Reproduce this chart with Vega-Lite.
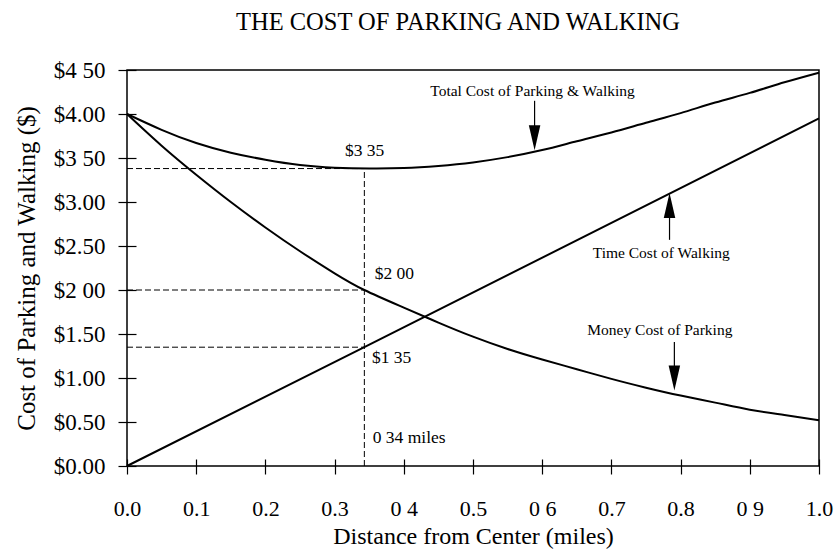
{
  "$schema": "https://vega.github.io/schema/vega-lite/v6.json",
  "autosize": {"type": "none"},
  "width": 692,
  "height": 396,
  "padding": {"left": 127, "top": 70, "right": 16, "bottom": 85},
  "background": "white",
  "config": {
    "font": "Liberation Serif",
    "view": {"stroke": "black", "strokeWidth": 1.5},
    "axis": {"labelColor": "black", "titleColor": "black", "tickColor": "black", "grid": false, "domain": false, "labelFont": "Liberation Serif", "titleFont": "Liberation Serif", "titleFontWeight": "normal"}
  },
  "title": {"text": "THE COST OF PARKING AND WALKING", "font": "Liberation Serif", "fontSize": 24.5, "fontWeight": "normal", "color": "black", "offset": 5, "dx": -15, "baseline": "alphabetic"},
  "datasets": {
    "curves": [
      {"x": 0.0, "cost": 4.00, "series": "Money"},
      {"x": 0.05, "cost": 3.64, "series": "Money"},
      {"x": 0.1, "cost": 3.31, "series": "Money"},
      {"x": 0.15, "cost": 3.00, "series": "Money"},
      {"x": 0.2, "cost": 2.71, "series": "Money"},
      {"x": 0.25, "cost": 2.44, "series": "Money"},
      {"x": 0.3, "cost": 2.19, "series": "Money"},
      {"x": 0.343, "cost": 2.00, "series": "Money"},
      {"x": 0.4, "cost": 1.80, "series": "Money"},
      {"x": 0.45, "cost": 1.63, "series": "Money"},
      {"x": 0.5, "cost": 1.47, "series": "Money"},
      {"x": 0.55, "cost": 1.33, "series": "Money"},
      {"x": 0.6, "cost": 1.21, "series": "Money"},
      {"x": 0.65, "cost": 1.10, "series": "Money"},
      {"x": 0.7, "cost": 0.99, "series": "Money"},
      {"x": 0.75, "cost": 0.89, "series": "Money"},
      {"x": 0.8, "cost": 0.80, "series": "Money"},
      {"x": 0.85, "cost": 0.72, "series": "Money"},
      {"x": 0.9, "cost": 0.64, "series": "Money"},
      {"x": 0.95, "cost": 0.58, "series": "Money"},
      {"x": 1.0, "cost": 0.52, "series": "Money"},
      {"x": 0.0, "cost": 0.00, "series": "Time"},
      {"x": 0.343, "cost": 1.35, "series": "Time"},
      {"x": 1.0, "cost": 3.95, "series": "Time"},
      {"x": 0.0, "cost": 4.00, "series": "Total"},
      {"x": 0.05, "cost": 3.82, "series": "Total"},
      {"x": 0.1, "cost": 3.67, "series": "Total"},
      {"x": 0.15, "cost": 3.56, "series": "Total"},
      {"x": 0.2, "cost": 3.48, "series": "Total"},
      {"x": 0.25, "cost": 3.42, "series": "Total"},
      {"x": 0.3, "cost": 3.39, "series": "Total"},
      {"x": 0.35, "cost": 3.38, "series": "Total"},
      {"x": 0.4, "cost": 3.385, "series": "Total"},
      {"x": 0.45, "cost": 3.41, "series": "Total"},
      {"x": 0.5, "cost": 3.45, "series": "Total"},
      {"x": 0.55, "cost": 3.51, "series": "Total"},
      {"x": 0.6, "cost": 3.59, "series": "Total"},
      {"x": 0.65, "cost": 3.69, "series": "Total"},
      {"x": 0.7, "cost": 3.79, "series": "Total"},
      {"x": 0.75, "cost": 3.90, "series": "Total"},
      {"x": 0.8, "cost": 4.01, "series": "Total"},
      {"x": 0.85, "cost": 4.13, "series": "Total"},
      {"x": 0.9, "cost": 4.24, "series": "Total"},
      {"x": 0.95, "cost": 4.36, "series": "Total"},
      {"x": 1.0, "cost": 4.47, "series": "Total"}
    ],
    "guides": [
      {"x": 0, "y": 3.38, "x2": 0.343, "y2": 3.38},
      {"x": 0, "y": 2.00, "x2": 0.343, "y2": 2.00},
      {"x": 0, "y": 1.35, "x2": 0.343, "y2": 1.35},
      {"x": 0.343, "y": 0, "x2": 0.343, "y2": 3.38}
    ],
    "values": [
      {"x": 0.315, "y": 3.58, "label": "$3 35"},
      {"x": 0.358, "y": 2.18, "label": "$2 00"},
      {"x": 0.354, "y": 1.23, "label": "$1 35"},
      {"x": 0.355, "y": 0.32, "label": "0 34 miles"}
    ],
    "names": [
      {"x": 0.586, "y": 4.26, "label": "Total Cost of Parking & Walking"},
      {"x": 0.772, "y": 2.42, "label": "Time Cost of Walking"},
      {"x": 0.770, "y": 1.54, "label": "Money Cost of Parking"}
    ],
    "stems": [
      {"x": 0.589, "y": 4.15, "y2": 3.76},
      {"x": 0.784, "y": 2.84, "y2": 2.57},
      {"x": 0.791, "y": 1.41, "y2": 1.12}
    ],
    "heads": [
      {"x": 0.589, "y": 3.73, "dir": "down"},
      {"x": 0.784, "y": 2.96, "dir": "up"},
      {"x": 0.791, "y": 1.00, "dir": "down"}
    ]
  },
  "layer": [
    {
      "data": {"name": "curves"},
      "mark": {"type": "line", "color": "black", "strokeWidth": 2, "interpolate": "natural"},
      "encoding": {
        "x": {"field": "x", "type": "quantitative", "scale": {"domain": [0, 1], "nice": false},
          "axis": {
            "title": "Distance from Center (miles)", "titleFontSize": 24, "titlePadding": 5,
            "values": [0, 0.05, 0.1, 0.15, 0.2, 0.25, 0.3, 0.35, 0.4, 0.45, 0.5, 0.55, 0.6, 0.65, 0.7, 0.75, 0.8, 0.85, 0.9, 0.95, 1.0],
            "labelExpr": "round(datum.value*20)%2!=0 ? '' : round(datum.value*20)==8 ? '0 4' : round(datum.value*20)==12 ? '0 6' : round(datum.value*20)==18 ? '0 9' : format(datum.value,'.1f')",
            "labelFontSize": 22, "offset": -7, "tickWidth": 1.2,
            "tickSize": {"condition": {"test": "round(datum.value*20)%2==0", "value": 15}, "value": 10},
            "labelPadding": 24, "labelFlush": false, "labelOverlap": false
          }},
        "y": {"field": "cost", "type": "quantitative", "scale": {"domain": [0, 4.5], "nice": false},
          "axis": {
            "title": "Cost of Parking and Walking ($)", "titleFontSize": 25, "titlePadding": 14,
            "values": [0, 0.25, 0.5, 0.75, 1, 1.25, 1.5, 1.75, 2, 2.25, 2.5, 2.75, 3, 3.25, 3.5, 3.75, 4, 4.25, 4.5],
            "labelExpr": "round(datum.value*4)%2!=0 ? '' : datum.value==4.5 ? '$4 50' : datum.value==3.5 ? '$3 50' : datum.value==2 ? '$2 00' : '$' + format(datum.value,'.2f')",
            "labelFontSize": 23, "offset": -9, "tickWidth": 1.2,
            "tickSize": {"condition": {"test": "round(datum.value*4)%2==0", "value": 18}, "value": 9},
            "labelPadding": 13, "labelFlush": false, "labelOverlap": false
          }},
        "detail": {"field": "series"}
      }
    },
    {
      "data": {"name": "guides"},
      "mark": {"type": "rule", "color": "black", "strokeWidth": 1, "strokeDash": [6, 3]},
      "encoding": {
        "x": {"field": "x", "type": "quantitative"},
        "y": {"field": "y", "type": "quantitative"},
        "x2": {"field": "x2"},
        "y2": {"field": "y2"}
      }
    },
    {
      "data": {"name": "values"},
      "mark": {"type": "text", "color": "black", "fontSize": 17.5, "font": "Liberation Serif", "baseline": "middle", "align": "left"},
      "encoding": {
        "x": {"field": "x", "type": "quantitative"},
        "y": {"field": "y", "type": "quantitative"},
        "text": {"field": "label"}
      }
    },
    {
      "data": {"name": "names"},
      "mark": {"type": "text", "color": "black", "fontSize": 15.5, "font": "Liberation Serif", "baseline": "middle", "align": "center"},
      "encoding": {
        "x": {"field": "x", "type": "quantitative"},
        "y": {"field": "y", "type": "quantitative"},
        "text": {"field": "label"}
      }
    },
    {
      "data": {"name": "stems"},
      "mark": {"type": "rule", "color": "black", "strokeWidth": 1.2},
      "encoding": {
        "x": {"field": "x", "type": "quantitative"},
        "y": {"field": "y", "type": "quantitative"},
        "y2": {"field": "y2"}
      }
    },
    {
      "data": {"name": "heads"},
      "mark": {"type": "point", "filled": true, "color": "black", "opacity": 1, "size": 625},
      "encoding": {
        "x": {"field": "x", "type": "quantitative"},
        "y": {"field": "y", "type": "quantitative"},
        "shape": {"field": "dir", "type": "nominal", "scale": {"domain": ["down", "up"], "range": ["M-0.46,-1L0.46,-1L0,1Z", "M-0.46,1L0.46,1L0,-1Z"]}, "legend": null}
      }
    }
  ]
}
